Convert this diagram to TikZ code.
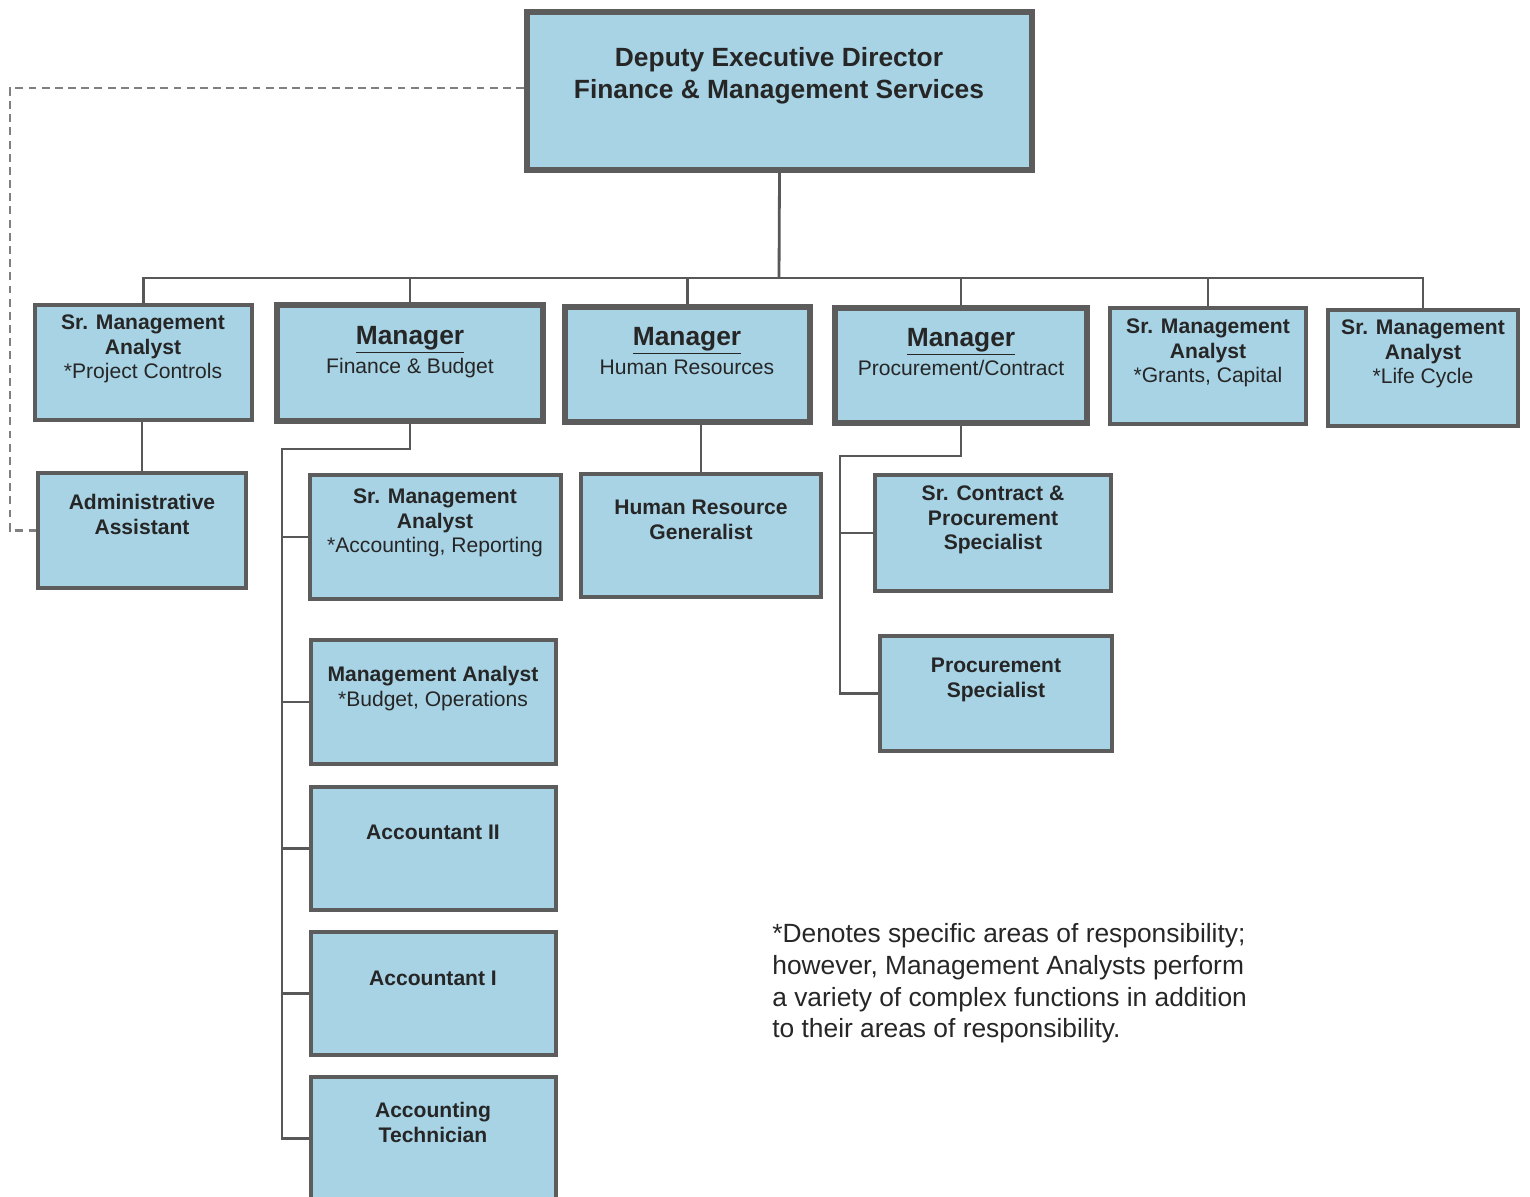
\documentclass[tikz,border=0pt]{standalone}
\usepackage{fontspec}
\setmainfont{Liberation Sans}
\usetikzlibrary{positioning,fit,calc}
\definecolor{boxfill}{RGB}{167,211,229}
\definecolor{boxline}{RGB}{92,92,92}
\definecolor{wirecol}{RGB}{88,88,88}
\definecolor{inkgray}{RGB}{38,38,38}

\begin{document}
\begin{tikzpicture}[
        x=0.02cm, y=-0.02cm,
        post/.style={
            draw=boxline,
            line width=2pt,
            fill=boxfill,
            inner sep=0pt
        },
        head/.style={
            post,
            line width=3.4pt
        },
        lbl/.style={
            anchor=north,
            align=center,
            inner sep=0pt,
            text=inkgray,
            font=\fontsize{12}{14.2}\selectfont\bfseries
        },
        mgrlbl/.style={
            lbl,
            font=\fontsize{12}{16.4}\selectfont
        },
        toplbl/.style={
            lbl,
            font=\fontsize{15}{18}\selectfont\bfseries
        },
        wire/.style={
            draw=wirecol,
            line width=1.6pt
        },
        staff/.style={
            draw=gray,
            line width=1.4pt,
            dash pattern=on 4.5pt off 3pt
        }
    ]
    \useasboundingbox (0,0) rectangle (1530,1196);

    % =========================
    % Boxes
    % =========================
    \node[head, fit={(527,12) (1032,170)}] (dep) {};
    \node[toplbl] (deptxt) at (779,47) {Deputy Executive Director\\Finance \& Management Services};

    \node[post, fit={(35,305) (252,420)}] (sma1) {};
    \node[lbl] (sma1txt) at (143,314) {Sr. Management\\Analyst\\{\mdseries *Project Controls}};

    \node[head, fit={(277,305) (543,421)}] (fin) {};
    \node[mgrlbl] (fintxt) at (410,326) {\underline{\fontsize{15}{18}\selectfont\bfseries Manager}\\Finance \& Budget};

    \node[head, fit={(565,307) (810,422)}] (hr) {};
    \node[mgrlbl] (hrtxt) at (687,327) {\underline{\fontsize{15}{18}\selectfont\bfseries Manager}\\Human Resources};

    \node[head, fit={(835,308) (1087,423)}] (proc) {};
    \node[mgrlbl] (proctxt) at (961,328) {\underline{\fontsize{15}{18}\selectfont\bfseries Manager}\\Procurement/Contract};

    \node[post, fit={(1110,308) (1306,424)}] (sma6) {};
    \node[lbl] (sma6txt) at (1208,318) {Sr. Management\\Analyst\\{\mdseries *Grants, Capital}};

    \node[post, fit={(1328,310) (1518,426)}] (sma7) {};
    \node[lbl] (sma7txt) at (1423,319) {Sr. Management\\Analyst\\{\mdseries *Life Cycle}};

    \node[post, fit={(38,473) (246,588)}] (admin) {};
    \node[lbl] (admintxt) at (142,494) {Administrative\\Assistant};

    \node[post, fit={(310,475) (561,599)}] (sma3) {};
    \node[lbl] (sma3txt) at (435,488) {Sr. Management\\Analyst\\{\mdseries *Accounting, Reporting}};

    \node[post, fit={(311,640) (556,764)}] (ma) {};
    \node[lbl] (matxt) at (433,666) {Management Analyst\\{\mdseries *Budget, Operations}};

    \node[post, fit={(311,787) (556,910)}] (acc2) {};
    \node[lbl] (acc2txt) at (433,825) {Accountant II};

    \node[post, fit={(311,932) (556,1055)}] (acc1) {};
    \node[lbl] (acc1txt) at (433,971) {Accountant I};

    \node[post, fit={(311,1077) (556,1200)}] (tech) {};
    \node[lbl] (techtxt) at (433,1102) {Accounting\\Technician};

    \node[post, fit={(581,474) (821,597)}] (hrg) {};
    \node[lbl] (hrgtxt) at (701,500) {Human Resource\\Generalist};

    \node[post, fit={(875,475) (1111,591)}] (scps) {};
    \node[lbl] (scpstxt) at (993,485) {Sr. Contract \&\\Procurement\\Specialist};

    \node[post, fit={(880,636) (1112,751)}] (ps) {};
    \node[lbl] (pstxt) at (996,658) {Procurement\\Specialist};

    % =========================
    % Connectors
    % =========================
    \coordinate (bus) at (779,278);
    \coordinate (fspine) at (282,449);
    \coordinate (pspine) at (840,456);
    \coordinate (dcorner) at (10,88);

    \draw[wire] (dep.south) -- (bus);
    \draw[wire] (sma1.north) |- (bus) -| (sma7.north);
    \foreach \n in {fin,hr,proc,sma6}
        \draw[wire] (\n.north) -- (\n.north |- bus);

    \draw[wire] (admin.north |- sma1.south) -- (admin.north);
    \draw[wire] (hrg.north |- hr.south) -- (hrg.north);

    \draw[wire] (fin.south) |- (fspine) |- (tech.west);
    \foreach \n in {sma3,ma,acc2,acc1}
        \draw[wire] (\n.west) -- (\n.west -| fspine);

    \draw[wire] (proc.south) |- (pspine) |- (ps.west);
    \draw[wire] (scps.west) -- (scps.west -| pspine);

    \draw[staff] (dep.west |- dcorner) -- (dcorner) |- (admin.west);

    % =========================
    % Note
    % =========================
    \node[anchor=north west, align=left, inner sep=0pt, text=inkgray,
          font=\fontsize{15}{18.1}\selectfont] (note) at (772,923)
        {*Denotes specific areas of responsibility;\\however, Management Analysts perform\\a variety of complex functions in addition\\to their areas of responsibility.};

\end{tikzpicture}
\end{document}
